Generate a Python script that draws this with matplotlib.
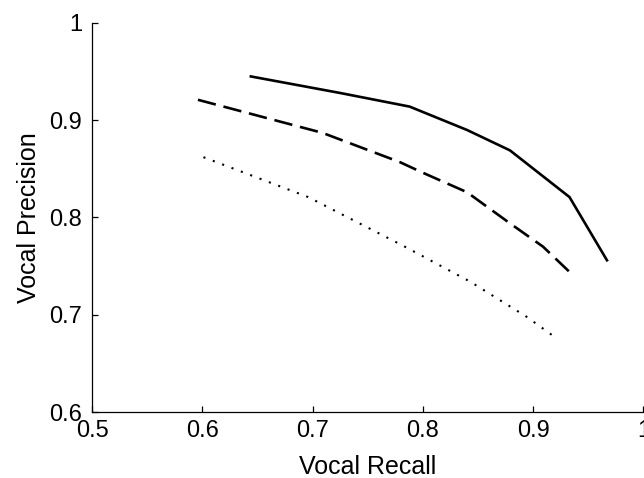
import matplotlib
matplotlib.use("Agg")
import matplotlib.pyplot as plt

# values
solid_recall = [0.644, 0.725, 0.788, 0.840, 0.879, 0.933, 0.967]
solid_precision = [0.945, 0.928, 0.914, 0.890, 0.869, 0.821, 0.756]

dashed_recall = [0.596, 0.709, 0.779, 0.800, 0.840, 0.879, 0.909, 0.934]
dashed_precision = [0.921, 0.887, 0.857, 0.846, 0.826, 0.794, 0.770, 0.743]

dotted_recall = [0.601, 0.696, 0.782, 0.843, 0.894, 0.921]
dotted_precision = [0.862, 0.821, 0.771, 0.734, 0.698, 0.676]

x_ticks = [0.5, 0.6, 0.7, 0.8, 0.9, 1.0]
y_ticks = [0.6, 0.7, 0.8, 0.9, 1.0]

plt.rcParams['font.family'] = ['Liberation Sans', 'DejaVu Sans']

fig = plt.figure(figsize=(6.44, 4.78), dpi=100)
ax = fig.add_axes([0.143, 0.138, 0.856, 0.814])

ax.plot(solid_recall, solid_precision, color="black", linewidth=1.9,
        linestyle="-")
ax.plot(dashed_recall, dashed_precision, color="black", linewidth=1.9,
        linestyle=(0, (7.0, 3.0)))
ax.plot(dotted_recall, dotted_precision, color="black", linewidth=1.5,
        linestyle=(0, (1.0, 3.8)))

ax.set_xlim(0.5, 1.0)
ax.set_ylim(0.6, 1.0)
ax.set_xticks(x_ticks)
ax.set_yticks(y_ticks)
ax.set_xticklabels(["{:g}".format(v) for v in x_ticks])
ax.set_yticklabels(["{:g}".format(v) for v in y_ticks])

# MATLAB style: box off, ticks pointing in
for side in ["top", "right"]:
    ax.spines[side].set_visible(False)
for side in ["left", "bottom"]:
    ax.spines[side].set_linewidth(0.9)
ax.tick_params(direction="in", length=4, width=0.9, labelsize=17)
ax.tick_params(axis="x", pad=6)
ax.tick_params(axis="y", pad=7)

ax.set_xlabel("Vocal Recall", fontsize=18, labelpad=9)
ax.set_ylabel("Vocal Precision", fontsize=18, labelpad=6)

fig.savefig("out.png", dpi=100)
